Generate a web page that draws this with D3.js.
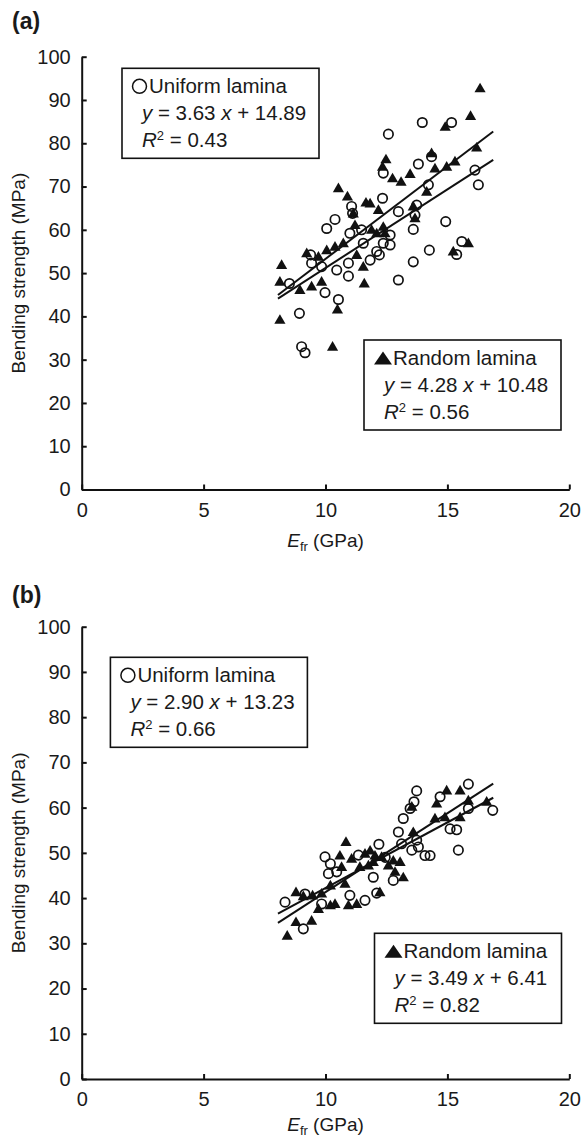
<!DOCTYPE html>
<html>
<head>
<meta charset="utf-8">
<script src="https://cdn.jsdelivr.net/npm/d3@7"></script>
<style>
  body { margin: 0; background: #fff; }
  text { font-family: "Liberation Sans", Arial, sans-serif; fill: #1a1a1a; }
</style>
</head>
<body>
<div id="graf"></div>
<script>
// panel (a): E_fr (GPa) and bending strength (MPa)
var aUniformX = [15.17,13.97,12.58,14.35,13.81,12.37,16.13,16.27,14.22,12.34,11.07,10.39,10.05,11.11,12.99,13.74,13.67,13.6,14.93,11.0,11.48,12.65,12.65,12.37,11.55,12.1,12.21,11.83,9.39,9.43,10.94,10.46,10.94,14.26,13.6,12.99,15.59,15.38,8.52,9.98,10.53,8.93,9.02,9.16,9.84]
var aUniformY = [84.8,84.8,82.1,76.9,75.2,73.1,73.8,70.4,70.4,67.3,65.4,62.4,60.3,63.8,64.2,65.7,63.4,60.1,61.9,59.2,60.0,58.8,56.5,56.9,56.9,55.0,54.2,53.0,54.2,52.3,52.3,50.7,49.3,55.3,52.6,48.4,57.3,54.3,47.6,45.5,43.9,40.7,33.0,31.6,51.5]
var aRandomX = [16.34,15.95,14.91,14.35,12.48,12.34,12.75,13.1,13.47,14.49,14.97,15.31,16.2,10.53,10.9,11.66,11.83,14.15,11.14,13.6,13.67,11.21,12.17,12.37,12.44,12.1,10.73,10.39,10.05,9.23,9.71,8.2,11.28,11.55,15.24,15.86,8.13,8.95,9.43,9.84,11.59,8.13,10.49,10.29,11.89]
var aRandomY = [92.7,86.3,83.8,77.7,76.3,74.6,71.9,71.1,72.9,74.2,74.6,75.8,79.0,69.6,67.7,66.3,66.1,68.8,63.8,65.4,62.7,61.1,64.6,60.7,59.2,59.2,56.9,56.1,55.3,54.6,53.8,51.9,54.2,51.5,55.0,56.9,48.0,46.1,46.9,48.0,47.6,39.2,41.6,33.0,60.0]

// panel (b)
var bUniformX = [9.09,8.34,9.16,9.84,9.98,10.2,10.12,10.46,11.0,11.62,12.1,11.96,12.19,12.78,12.99,13.19,13.47,13.63,13.74,13.74,13.54,13.81,14.08,14.29,13.12,14.7,15.11,15.38,15.45,15.86,15.86,16.86,11.35,12.45]
var bUniformY = [33.2,39.1,40.9,38.7,49.1,47.6,45.4,45.8,40.6,39.5,41.1,44.6,51.9,43.9,54.6,57.6,59.8,61.3,63.7,52.8,50.6,51.3,49.4,49.4,52.0,62.4,55.3,55.1,50.6,65.2,59.8,59.4,49.5,49.0]
var bRandomX = [8.43,8.79,9.43,8.79,9.09,9.71,10.2,10.39,10.94,11.28,9.47,9.84,10.2,10.84,10.59,10.66,11.07,10.8,11.62,11.83,12.03,12.3,12.58,12.78,13.06,12.85,13.19,12.23,11.41,13.54,13.6,14.56,14.97,15.52,15.86,14.49,14.9,15.52,16.61,11.96,11.76]
var bRandomY = [31.7,34.7,35.0,41.3,40.4,37.6,38.4,38.7,38.4,38.7,40.6,41.0,42.8,52.4,49.4,46.9,48.7,43.2,49.8,50.5,49.4,49.1,47.2,48.3,48.0,45.8,44.6,41.3,46.9,60.2,54.6,60.9,63.8,63.8,61.6,57.6,57.9,57.9,61.3,48.0,47.2]

// fits: [slope, intercept, R2]
var aFitUniform = [3.63, 14.89, 0.43]
var aFitRandom = [4.28, 10.48, 0.56]
var bFitUniform = [2.90, 13.23, 0.66]
var bFitRandom = [3.49, 6.41, 0.82]
var fitRange = [8.05, 16.88]

var xTicks = [0, 5, 10, 15, 20]
var yTicks = [0, 10, 20, 30, 40, 50, 60, 70, 80, 90, 100]

var svg = d3.select('#graf')
            .append('svg')
            .attr('width', 582)
            .attr('height', 1140)

function zip(xs, ys) { return xs.map((d, i) => [d, ys[i]]) }

function panel(opt) {
  var x = d3.scaleLinear().domain([0, 20]).range([81.7, 569.3])
  var y = d3.scaleLinear().domain([0, 100]).range([opt.bottom, opt.top])
  var g = svg.append('g')

  // panel letter
  g.append('text')
    .attr('x', 12).attr('y', opt.letterY)
    .style('font-size', '23px').style('font-weight', 'bold')
    .text(opt.letter)

  // axes, ticks point inward
  var ax = g.append('g')
    .attr('transform', 'translate(0,' + opt.bottom + ')')
    .call(d3.axisBottom(x).tickValues(xTicks).tickSize(-5).tickSizeOuter(0).tickPadding(13))
  var ay = g.append('g')
    .attr('transform', 'translate(81.7,0)')
    .call(d3.axisLeft(y).tickValues(yTicks).tickSize(-5).tickSizeOuter(0).tickPadding(11))
  ;[ax, ay].forEach(a => {
    a.select('.domain').attr('stroke', '#111').attr('stroke-width', 2)
    a.selectAll('.tick line').attr('stroke', '#111').attr('stroke-width', 2)
    a.selectAll('text').style('font-size', '20px').attr('fill', '#1a1a1a')
      .style('font-family', '"Liberation Sans", Arial, sans-serif')
  })

  // axis titles
  g.append('text')
    .attr('transform', 'translate(25,' + ((opt.top + opt.bottom) / 2) + ') rotate(-90)')
    .attr('text-anchor', 'middle')
    .style('font-size', '19px')
    .text('Bending strength (MPa)')
  var xt = g.append('text')
    .attr('x', x(10)).attr('y', opt.bottom + opt.titleGap)
    .attr('text-anchor', 'middle')
    .style('font-size', '19px')
  xt.append('tspan').style('font-style', 'italic').text('E')
  xt.append('tspan').attr('dy', 4).style('font-size', '13px').text('fr')
  xt.append('tspan').attr('dy', -4).text(' (GPa)')

  // regression lines
  var line = d3.line().x(d => x(d[0])).y(d => y(d[1]))
  ;[opt.fitU, opt.fitR].forEach(f => {
    g.append('path')
      .datum(fitRange.map(v => [v, f[0] * v + f[1]]))
      .attr('d', line)
      .attr('fill', 'none').attr('stroke', '#111').attr('stroke-width', 2)
  })

  // points
  var tri = d3.symbol().type(d3.symbolTriangle).size(54)
  g.selectAll('.u').data(zip(opt.ux, opt.uy)).join('circle')
    .attr('cx', d => x(d[0])).attr('cy', d => y(d[1])).attr('r', 4.7)
    .attr('fill', 'none').attr('stroke', '#111').attr('stroke-width', 1.7)
  g.selectAll('.r').data(zip(opt.rx, opt.ry)).join('path')
    .attr('d', tri)
    .attr('transform', d => 'translate(' + x(d[0]) + ',' + (y(d[1]) + 0.8) + ')')
    .attr('fill', '#111')

  legend(g, opt.legU, 'u', 'Uniform lamina', opt.fitU)
  legend(g, opt.legR, 'r', 'Random lamina', opt.fitR)
}

function legend(g, box, kind, label, fit) {
  var lg = g.append('g').attr('transform', 'translate(' + box[0] + ',' + box[1] + ')')
  lg.append('rect').attr('width', box[2]).attr('height', 90)
    .attr('fill', '#fff').attr('stroke', '#111').attr('stroke-width', 1.6)
  if (kind == 'u') {
    lg.append('circle').attr('cx', 17.5).attr('cy', 18).attr('r', 7)
      .attr('fill', 'none').attr('stroke', '#111').attr('stroke-width', 1.5)
  } else {
    lg.append('path').attr('d', 'M10,24.5L19,11.5L28,24.5Z').attr('fill', '#111')
  }
  lg.append('text').attr('x', kind == 'u' ? 27 : 29).attr('y', 25)
    .style('font-size', '20.5px').text(label)
  var eq = lg.append('text').attr('x', 20).attr('y', 52).style('font-size', '20.5px')
  eq.append('tspan').style('font-style', 'italic').text('y')
  eq.append('tspan').text(' = ' + fit[0].toFixed(2) + ' ')
  eq.append('tspan').style('font-style', 'italic').text('x')
  eq.append('tspan').text(' + ' + fit[1].toFixed(2))
  var r2 = lg.append('text').attr('x', 20).attr('y', 79).style('font-size', '20.5px')
  r2.append('tspan').style('font-style', 'italic').text('R')
  r2.append('tspan').attr('dy', -7).style('font-size', '13px').text('2')
  r2.append('tspan').attr('dy', 7).text(' = ' + fit[2].toFixed(2))
}

panel({
  letter: '(a)', letterY: 29, top: 56.7, bottom: 489.5, titleGap: 57,
  ux: aUniformX, uy: aUniformY, rx: aRandomX, ry: aRandomY,
  fitU: aFitUniform, fitR: aFitRandom,
  legU: [122, 68.3, 197], legR: [364, 340, 197]
})
panel({
  letter: '(b)', letterY: 603, top: 626.7, bottom: 1079, titleGap: 52,
  ux: bUniformX, uy: bUniformY, rx: bRandomX, ry: bRandomY,
  fitU: bFitUniform, fitR: bFitRandom,
  legU: [110.4, 657.3, 197], legR: [374.5, 933.3, 187]
})
</script>
</body>
</html>
